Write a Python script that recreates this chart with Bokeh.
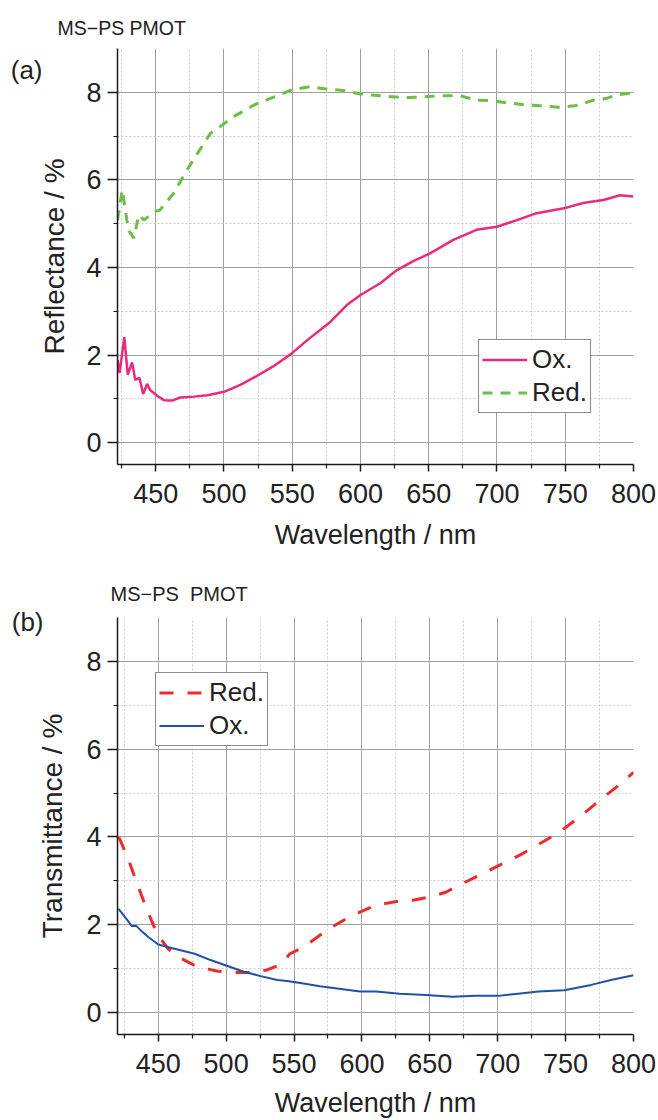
from bokeh.plotting import figure
from bokeh.models import FixedTicker, Legend, LegendItem, LinearAxis, CustomJSTickFormatter
from bokeh.layouts import column
from bokeh.embed import file_html
from bokeh.resources import INLINE

FONT = "Liberation Sans"

# ---------------- data (a) Reflectance ----------------
refl_ox_wl = [422, 423.5, 427, 429.5, 432.7, 435, 438, 440.8, 443.7, 446, 451, 456, 462, 468,
              478, 488, 500, 512, 524, 536, 549, 561, 577, 590, 600, 614.5, 626.7, 639, 651,
              668, 685, 700, 714.6, 729, 749, 763, 778, 790, 800]
refl_ox = [1.89, 1.59, 2.41, 1.55, 1.83, 1.43, 1.48, 1.11, 1.34, 1.20, 1.07, 0.97, 0.96, 1.03,
           1.05, 1.08, 1.16, 1.32, 1.52, 1.74, 2.02, 2.34, 2.73, 3.14, 3.37, 3.64, 3.94, 4.15, 4.32,
           4.63, 4.86, 4.93, 5.08, 5.24, 5.35, 5.47, 5.54, 5.65, 5.62]

refl_red_wl = [422, 425.5, 430, 434, 437.6, 441.4, 448.5, 453, 463, 473, 483, 490, 498.6, 507,
               522, 534, 549, 563, 575.5, 587.7, 602, 615.8, 630, 643.6, 658, 673, 685, 696,
               707, 722, 731.7, 745, 757, 770.7, 779, 787.8, 798.6, 800]
refl_red = [5.08, 5.77, 4.85, 4.67, 5.20, 5.08, 5.27, 5.31, 5.69, 6.23, 6.72, 7.06, 7.25, 7.44,
            7.71, 7.86, 8.05, 8.13, 8.07, 8.04, 7.95, 7.92, 7.88, 7.89, 7.92, 7.92, 7.82, 7.81,
            7.76, 7.71, 7.69, 7.66, 7.69, 7.82, 7.85, 7.94, 7.98, 8.00]

# ---------------- data (b) Transmittance ----------------
trans_red_wl = [421, 428, 434, 441.5, 449, 457, 467, 479, 494, 506, 518, 530, 540, 547, 557,
                569, 578, 588.7, 598.5, 610.6, 627.7, 637.4, 649.6, 661.7, 674, 688.5, 705.5,
                717.7, 730, 745, 760, 775, 790, 800]
trans_red = [4.00, 3.49, 2.97, 2.36, 1.80, 1.46, 1.23, 1.04, 0.94, 0.91, 0.91, 0.97, 1.09, 1.34,
             1.49, 1.76, 1.95, 2.14, 2.29, 2.45, 2.54, 2.56, 2.63, 2.74, 2.94, 3.16, 3.42, 3.61,
             3.83, 4.10, 4.45, 4.83, 5.20, 5.47]

trans_ox_wl = [420.8, 425.7, 430.6, 434, 437.8, 442.7, 450, 459.8, 476.8, 489, 501, 513, 525.5,
               537.6, 545, 557, 569, 579, 598.5, 610.6, 627.7, 647, 666.6, 683.6, 700.7, 715,
               730, 749, 768.8, 783.4, 800]
trans_ox = [2.36, 2.17, 1.97, 1.97, 1.85, 1.72, 1.55, 1.47, 1.34, 1.19, 1.06, 0.93, 0.83, 0.74,
            0.72, 0.66, 0.60, 0.56, 0.48, 0.48, 0.43, 0.40, 0.36, 0.38, 0.38, 0.43, 0.48, 0.51,
            0.63, 0.74, 0.85]

x_major = [450, 500, 550, 600, 650, 700, 750, 800]
x_minor = [425, 475, 525, 575, 625, 675, 725, 775]
y_major = [0, 2, 4, 6, 8]
y_minor = [1, 3, 5, 7]

PINK = "#EC2A7B"
GREEN = "#6CBE45"
RED = "#EE2A2A"
BLUE = "#2050A8"
TXT = "#222222"


def make_fig(xr, title, title_size, title_offset, title_standoff, left, top, bottom):
    p = figure(width=658, height=560, x_range=xr, y_range=(-0.5, 9),
               output_backend="svg", toolbar_location=None, tools="",
               min_border_left=left, min_border_right=25,
               min_border_top=top, min_border_bottom=bottom)
    p.title.text = title
    p.title.align = "left"
    p.title.offset = title_offset
    p.title.standoff = title_standoff
    p.title.text_font = FONT
    p.title.text_font_size = title_size
    p.title.text_font_style = "normal"
    p.title.text_color = TXT
    xt = FixedTicker(ticks=x_major, minor_ticks=x_minor)
    yt = FixedTicker(ticks=y_major, minor_ticks=y_minor)
    p.xaxis.ticker = xt
    p.yaxis.ticker = yt
    p.xgrid.ticker = xt
    p.ygrid.ticker = yt
    p.outline_line_color = None
    for g in (p.xgrid, p.ygrid):
        g.grid_line_color = "#a0a0a0"
        g.grid_line_width = 1
        g.minor_grid_line_color = "#cccccc"
        g.minor_grid_line_dash = "2 2"
        g.minor_grid_line_width = 1
    for ax in (p.xaxis, p.yaxis):
        ax.axis_line_color = "#1a1a1a"
        ax.axis_line_width = 1.5
        ax.major_tick_line_color = "#1a1a1a"
        ax.minor_tick_line_color = "#1a1a1a"
        ax.major_tick_line_width = 1.5
        ax.minor_tick_line_width = 1.2
        ax.major_tick_in = 0
        ax.minor_tick_in = 0
        ax.minor_tick_out = 4
        ax.major_label_text_font = FONT
        ax.major_label_text_font_size = "27px"
        ax.major_label_text_color = TXT
        ax.axis_label_text_font = FONT
        ax.axis_label_text_font_style = "normal"
        ax.axis_label_text_color = TXT
    p.xaxis.major_tick_out = 7
    p.yaxis.major_tick_out = 10
    p.xaxis.major_label_standoff = 12
    p.yaxis.major_label_standoff = 6
    p.xaxis.axis_label = "Wavelength / nm"
    p.xaxis.axis_label_text_font_size = "27px"
    p.yaxis.axis_label_text_font_size = "28px"
    return p


def panel_tag(p, text, yval, standoff):
    # a tick-only axis on the left that carries the panel letter
    ax = LinearAxis(ticker=FixedTicker(ticks=[yval]),
                    formatter=CustomJSTickFormatter(code="return '%s';" % text),
                    axis_line_color=None, major_tick_line_color=None,
                    minor_tick_line_color=None, major_tick_out=0, major_tick_in=0,
                    major_label_standoff=standoff, major_label_text_font=FONT,
                    major_label_text_font_size="26px", major_label_text_color=TXT)
    p.add_layout(ax, "left")


def make_legend(items, loc):
    return Legend(items=items, location=loc, label_text_font=FONT,
                  label_text_font_size="26px", label_text_color=TXT,
                  glyph_width=45, glyph_height=33, label_height=33,
                  label_standoff=5, padding=3, spacing=0, margin=0,
                  border_line_color="#1a1a1a", border_line_width=1,
                  background_fill_color="white", background_fill_alpha=1)


# ---------------- figure (a) ----------------
p1 = make_fig((422, 800), "MS−PS PMOT", "19.5px", -60, 19, 117, 48, 96)
p1.yaxis.axis_label = "Reflectance / %"
p1.xaxis.axis_label_standoff = 14
p1.yaxis.axis_label_standoff = 13

ra_red = p1.line(refl_red_wl, refl_red, line_color=GREEN, line_width=3, line_dash="10 8")
ra_ox = p1.line(refl_ox_wl, refl_ox, line_color=PINK, line_width=2.5)
p1.add_layout(make_legend([LegendItem(label="Ox.", renderers=[ra_ox]),
                           LegendItem(label="Red.", renderers=[ra_red])], (361, 51)))
panel_tag(p1, "(a)", 8.51, -6)

# ---------------- figure (b) ----------------
p2 = make_fig((420, 800), "MS−PS\u00a0 PMOT", "20px", -7, 26, 112, 57, 83)
p2.yaxis.axis_label = "Transmittance / %"
p2.xaxis.axis_label_standoff = 12
p2.yaxis.axis_label_standoff = 15

rb_red = p2.line(trans_red_wl, trans_red, line_color=RED, line_width=3, line_dash="14 14")
rb_ox = p2.line(trans_ox_wl, trans_ox, line_color=BLUE, line_width=2)
p2.add_layout(make_legend([LegendItem(label="Red.", renderers=[rb_red]),
                           LegendItem(label="Ox.", renderers=[rb_ox])], (38, 288)))
panel_tag(p2, "(b)", 8.90, -9)

layout = column(p1, p2)

open("out.html", "w").write(file_html(layout, INLINE))
